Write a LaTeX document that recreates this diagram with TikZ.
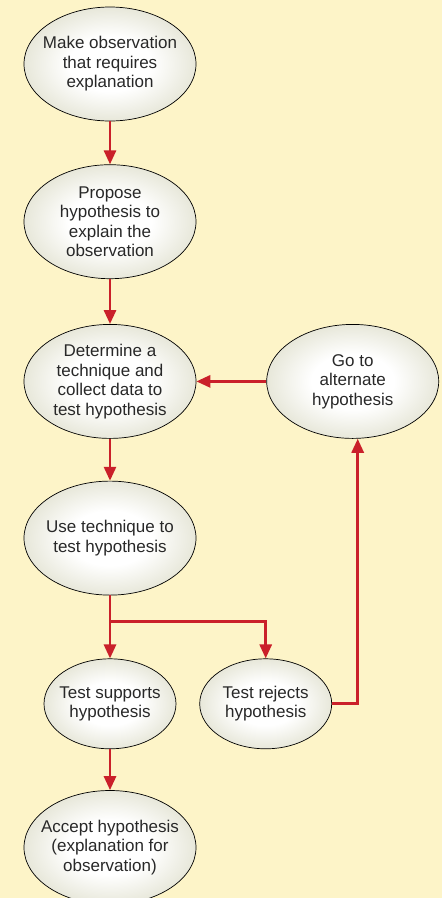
\documentclass[tikz,border=0pt]{standalone}
\usepackage{fontspec}
\setmainfont{Liberation Sans}
\usetikzlibrary{shapes.geometric,positioning,arrows.meta}

\definecolor{paper}{RGB}{253,244,200}
\definecolor{eggedge}{RGB}{186,186,146}
\definecolor{flowred}{RGB}{202,32,42}
\definecolor{ink}{RGB}{40,40,40}
\pgfdeclareradialshading{egg}{\pgfpoint{0bp}{0bp}}{color(0bp)=(white); color(12bp)=(white); color(50bp)=(eggedge); color(70bp)=(eggedge)}

\begin{document}
\begin{tikzpicture}[
  x=1pt, y=1pt,
  node distance=43pt,
  egg/.style={ellipse, draw=black, line width=0.7pt, shading=egg, text=ink,
    align=center, font=\fontsize{17}{19.5}\selectfont,
    inner xsep=-30pt, inner ysep=-12pt, minimum width=172pt, minimum height=114pt},
  smallegg/.style={egg, minimum width=132pt, minimum height=90pt},
  flow/.style={draw=flowred, line width=2.8pt, -{Triangle[length=14pt,width=12pt]}}
]
  \path[use as bounding box, fill=paper] (0,0) rectangle (442,-898);

  \node[egg] (observe) at (110,-64) {Make observation\\that requires\\explanation};
  \node[egg, below=of observe] (propose) {Propose\\hypothesis to\\explain the\\observation};
  \node[egg, below=45pt of propose] (determine) {Determine a\\technique and\\collect data to\\test hypothesis};
  \node[egg, right=70pt of determine] (alternate) {Go to\\alternate\\hypothesis};
  \node[egg, below=42pt of determine] (usetech) {Use technique to\\test hypothesis};
  \node[smallegg, below=63pt of usetech] (supports) {Test supports\\hypothesis};
  \node[smallegg, right=23pt of supports] (rejects) {Test rejects\\hypothesis};
  \node[egg, below=41pt of supports] (accept) {Accept hypothesis\\(explanation for\\observation)};

  \coordinate[below=26pt of usetech.south] (fork);

  \draw[flow] (observe) -- (propose);
  \draw[flow] (propose) -- (determine);
  \draw[flow] (determine) -- (usetech);
  \draw[flow] (alternate) -- (determine);
  \draw[flow] (usetech) -- (supports);
  \draw[flow] (fork) -| (rejects);
  \draw[flow] (rejects.east) -| ([xshift=5pt]alternate.south);
  \draw[flow] (supports) -- (accept);
\end{tikzpicture}
\end{document}
